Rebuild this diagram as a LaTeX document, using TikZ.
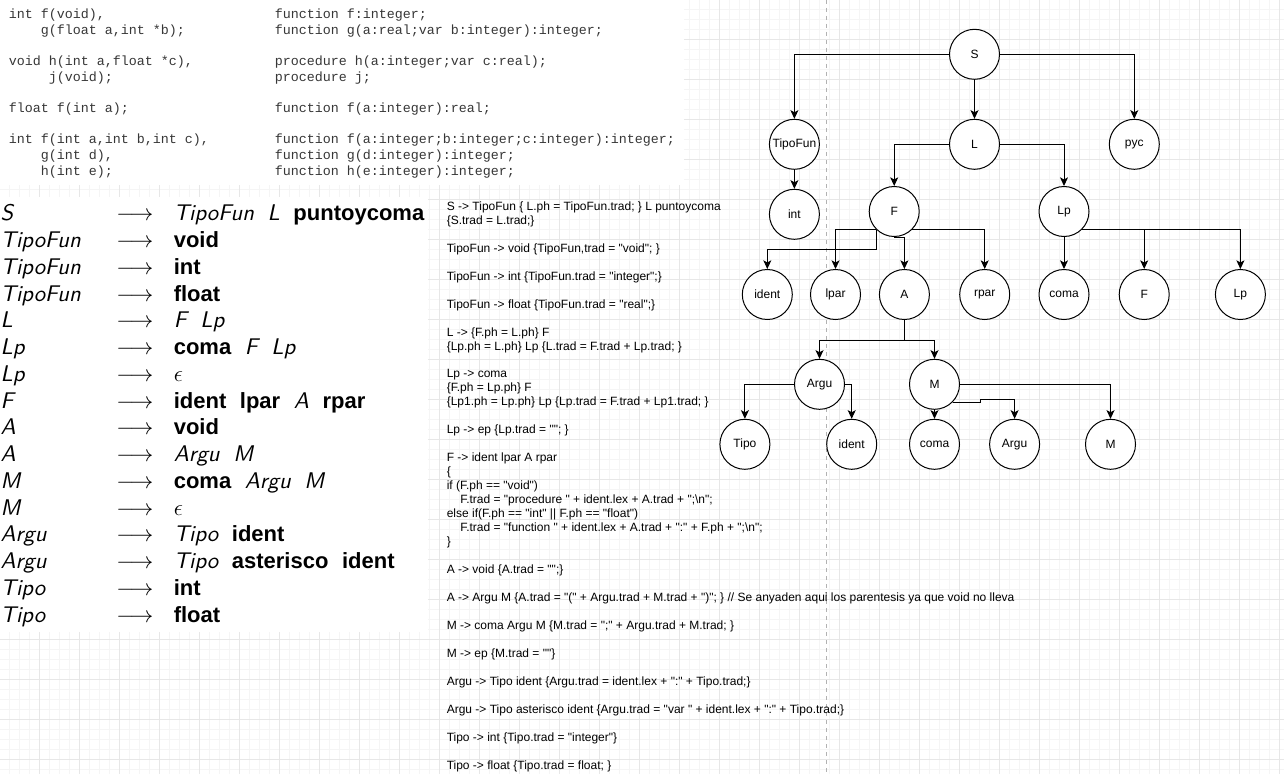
\documentclass[tikz,border=0pt]{standalone}
\usepackage{fontspec}
\newfontfamily\arialf{Liberation Sans}
\newfontfamily\courf{Liberation Mono}
\newfontfamily\lmsten{lmsans10-regular}[Extension=.otf,ItalicFont=lmsans10-oblique,BoldFont=lmsans10-bold]
\usetikzlibrary{arrows.meta}
\definecolor{gmin}{RGB}{245,245,245}
\definecolor{gmaj}{RGB}{231,231,231}
\definecolor{dashc}{RGB}{178,178,178}
\definecolor{codec}{RGB}{55,55,55}
\newcommand\gnt[1]{{\lmsten\itshape\fontsize{17}{20}\selectfont #1}}
\newcommand\gtm[1]{{\arialf\bfseries\fontsize{16.5}{20}\selectfont #1}}
\newcommand\ggap{\hspace{10.2pt}}
\begin{document}
\begin{tikzpicture}[x=0.75pt,y=-0.75pt,
  tnode/.style={circle,draw,fill=white,line width=0.75pt,minimum size=37.5pt,inner sep=0pt,font=\arialf\fontsize{9}{11}\selectfont},
  conn/.style={line width=0.75pt,-{Stealth[length=6.5pt,width=6pt,inset=1.6pt]}},
  semtxt/.style={anchor=base west,inner sep=0pt,font=\arialf\fontsize{9}{10.5}\selectfont},
  codetxt/.style={anchor=base west,inner sep=0pt,text=codec,font=\courf\fontsize{10}{12}\selectfont},
  gramtxt/.style={anchor=base west,inner sep=0pt,font=\lmsten\fontsize{16.5}{20}\selectfont},
  gridmin/.style={gmin,line width=0.75pt},
  gridmaj/.style={gmaj,line width=0.75pt}]
\useasboundingbox (0,0) rectangle (1284,774);
\fill[white] (0,0) rectangle (1284,774);
% grid
\foreach \x in {9.5,19.5,...,1280} \draw[gridmin] (\x,0) -- (\x,774);
\foreach \y in {9.5,19.5,...,774} \draw[gridmin] (0,\y) -- (1284,\y);
\foreach \x in {39.5,79.5,...,1280} \draw[gridmaj] (\x,0) -- (\x,774);
\foreach \y in {39.5,79.5,...,774} \draw[gridmaj] (0,\y) -- (1284,\y);
% image backgrounds
\fill[white] (0,0) rectangle (684,185);
\fill[white] (0,197) rectangle (428,632);
% dashed guide
\draw[dashc,line width=0.75pt,dash pattern=on 3pt off 3pt] (826.5,0) -- (826.5,774);

% code block
\node[codetxt] (c0l) at (8.5,18.5) {int f(void),};
\node[codetxt] (c1l) at (40.5,34.15) {g(float a,int *b);};
\node[codetxt] (c3l) at (8.5,65.45) {void h(int a,float *c),};
\node[codetxt] (c4l) at (48.5,81.1) {j(void);};
\node[codetxt] (c6l) at (8.5,112.4) {float f(int a);};
\node[codetxt] (c8l) at (8.5,143.7) {int f(int a,int b,int c),};
\node[codetxt] (c9l) at (40.5,159.35) {g(int d),};
\node[codetxt] (c10l) at (40.5,175) {h(int e);};
\node[codetxt] (c0r) at (274.5,18.5) {function f:integer;};
\node[codetxt] (c1r) at (274.5,34.15) {function g(a:real;var b:integer):integer;};
\node[codetxt] (c3r) at (274.5,65.45) {procedure h(a:integer;var c:real);};
\node[codetxt] (c4r) at (274.5,81.1) {procedure j;};
\node[codetxt] (c6r) at (274.5,112.4) {function f(a:integer):real;};
\node[codetxt] (c8r) at (274.5,143.7) {function f(a:integer;b:integer;c:integer):integer;};
\node[codetxt] (c9r) at (274.5,159.35) {function g(d:integer):integer;};
\node[codetxt] (c10r) at (274.5,175) {function h(e:integer):integer;};

% grammar
\foreach \i/\l/\r in {
 0/S/{\gnt{TipoFun}\ggap\gnt{L}\ggap\gtm{puntoycoma}},
 1/TipoFun/{\gtm{void}},
 2/TipoFun/{\gtm{int}},
 3/TipoFun/{\gtm{float}},
 4/L/{\gnt{F}\ggap\gnt{Lp}},
 5/Lp/{\gtm{coma}\ggap\gnt{F}\ggap\gnt{Lp}},
 6/Lp/{$\epsilon$},
 7/F/{\gtm{ident}\ggap\gtm{lpar}\ggap\gnt{A}\ggap\gtm{rpar}},
 8/A/{\gtm{void}},
 9/A/{\gnt{Argu}\ggap\gnt{M}},
 10/M/{\gtm{coma}\ggap\gnt{Argu}\ggap\gnt{M}},
 11/M/{$\epsilon$},
 12/Argu/{\gnt{Tipo}\ggap\gtm{ident}},
 13/Argu/{\gnt{Tipo}\ggap\gtm{asterisco}\ggap\gtm{ident}},
 14/Tipo/{\gtm{int}},
 15/Tipo/{\gtm{float}}}{
  \node[gramtxt] (gl\i) at (0.3,{220.7+26.77*\i}) {\gnt{\l}};
  \node[gramtxt] (ga\i) at (116,{220.7+26.77*\i}) {$\longrightarrow$};
  \node[gramtxt] (gr\i) at (173.5,{220.7+26.77*\i}) {\r};
}

% semantic rules
\node[semtxt] (t0) at (446.5,210.3) {S -> TipoFun \{ L.ph = TipoFun.trad; \} L puntoycoma};
\node[semtxt] (t1) at (446.5,224.3) {\{S.trad = L.trad;\}};
\node[semtxt] (t3) at (446.5,252.2) {TipoFun -> void \{TipoFun,trad = "void"; \}};
\node[semtxt] (t5) at (446.5,280.2) {TipoFun -> int \{TipoFun.trad = "integer";\}};
\node[semtxt] (t7) at (446.5,308.1) {TipoFun -> float \{TipoFun.trad = "real";\}};
\node[semtxt] (t9) at (446.5,336.0) {L -> \{F.ph = L.ph\} F};
\node[semtxt] (t10) at (446.5,350.0) {\{Lp.ph = L.ph\} Lp \{L.trad = F.trad + Lp.trad; \}};
\node[semtxt] (t12) at (446.5,377.9) {Lp -> coma};
\node[semtxt] (t13) at (446.5,391.9) {\{F.ph = Lp.ph\} F};
\node[semtxt] (t14) at (446.5,405.9) {\{Lp1.ph = Lp.ph\} Lp \{Lp.trad = F.trad + Lp1.trad; \}};
\node[semtxt] (t16) at (446.5,433.8) {Lp -> ep \{Lp.trad = ""; \}};
\node[semtxt] (t18) at (446.5,461.8) {F -> ident lpar A rpar};
\node[semtxt] (t19) at (446.5,475.7) {\{};
\node[semtxt] (t20) at (446.5,489.7) {if (F.ph == "void")};
\node[semtxt] (t21) at (460,503.7) {F.trad = "procedure " + ident.lex + A.trad + ";\textbackslash n";};
\node[semtxt] (t22) at (446.5,517.6) {else if(F.ph == "int" || F.ph == "float")};
\node[semtxt] (t23) at (460,531.6) {F.trad = "function " + ident.lex + A.trad + ":" + F.ph + ";\textbackslash n";};
\node[semtxt] (t24) at (446.5,545.6) {\}};
\node[semtxt] (t26) at (446.5,573.5) {A -> void \{A.trad = "";\}};
\node[semtxt] (t28) at (446.5,601.5) {A -> Argu M \{A.trad = "(" + Argu.trad + M.trad + ")"; \} // Se anyaden aqui los parentesis ya que void no lleva};
\node[semtxt] (t30) at (446.5,629.4) {M -> coma Argu M \{M.trad = ";" + Argu.trad + M.trad; \}};
\node[semtxt] (t32) at (446.5,657.3) {M -> ep \{M.trad = ""\}};
\node[semtxt] (t34) at (446.5,685.3) {Argu -> Tipo ident \{Argu.trad = ident.lex + ":" + Tipo.trad;\}};
\node[semtxt] (t36) at (446.5,713.2) {Argu -> Tipo asterisco ident \{Argu.trad = "var " + ident.lex + ":" + Tipo.trad;\}};
\node[semtxt] (t38) at (446.5,741.2) {Tipo -> int \{Tipo.trad = "integer"\}};
\node[semtxt] (t40) at (446.5,769.1) {Tipo -> float \{Tipo.trad = float; \}};

% tree nodes
\node[tnode] (nS) at (974.5,54.3) {S};
\node[tnode] (nTF) at (794.4,144.3) {TipoFun};
\node[tnode] (nL) at (974.5,144.3) {L};
\node[tnode] (npyc) at (1134.3,144.3) {pyc};
\node[tnode] (nint) at (794.4,214.3) {int};
\node[tnode] (nF) at (894.2,211.5) {F};
\node[tnode] (nLp) at (1064,211.5) {Lp};
\node[tnode] (nid) at (767.3,294.5) {ident};
\node[tnode] (nlpar) at (835.5,294.5) {lpar};
\node[tnode] (nA) at (904.4,294.5) {A};
\node[tnode] (nrpar) at (984.7,294.5) {rpar};
\node[tnode] (ncoma) at (1064,294.5) {coma};
\node[tnode] (nF2) at (1144.2,294.5) {F};
\node[tnode] (nLp2) at (1240.4,294.5) {Lp};
\node[tnode] (nArgu) at (819.5,384.3) {Argu};
\node[tnode] (nM) at (934.5,384.3) {M};
\node[tnode] (nTipo) at (744.9,444.3) {Tipo};
\node[tnode] (nid2) at (851.7,444.3) {ident};
\node[tnode] (ncoma2) at (934.5,444.3) {coma};
\node[tnode] (nArgu2) at (1014.6,444.3) {Argu};
\node[tnode] (nM2) at (1110.5,444.3) {M};

% connectors
\draw[conn] (nS.west) -| (nTF.north);
\draw[conn] (nS.south) -- (nL.north);
\draw[conn] (nS.east) -| (npyc.north);
\draw[conn] (nTF.south) -- (nint.north);
\draw[conn] (nL.west) -| (nF.north);
\draw[conn] (nL.east) -| (nLp.north);
\draw[conn] (nF.225) -- ++(0,20) -| (nid.north);
\draw[conn] (nF.225) -| (nlpar.north);
\draw[conn] (nF.south) -| (nA.north);
\draw[conn] (nF.-45) -| (nrpar.north);
\draw[conn] (nLp.south) -- (ncoma.north);
\draw[conn] (nLp.-45) -| (nF2.north);
\draw[conn] (nLp.-45) -| (nLp2.north);
\draw[conn] (nA.south) -- ++(0,20) -| (nArgu.north);
\draw[conn] (nA.south) -- ++(0,20) -| (nM.north);
\draw[conn] (nArgu.west) -| (nTipo.north);
\draw[conn] (nArgu.east) -| (nid2.north);
\draw[conn] (nM.south) -- (ncoma2.north);
\draw[conn] (nM.-45) -- ++(28,0) -- ++(0,-3) -| (nArgu2.north);
\draw[conn] (nM.east) -| (nM2.north);
\end{tikzpicture}
\end{document}
